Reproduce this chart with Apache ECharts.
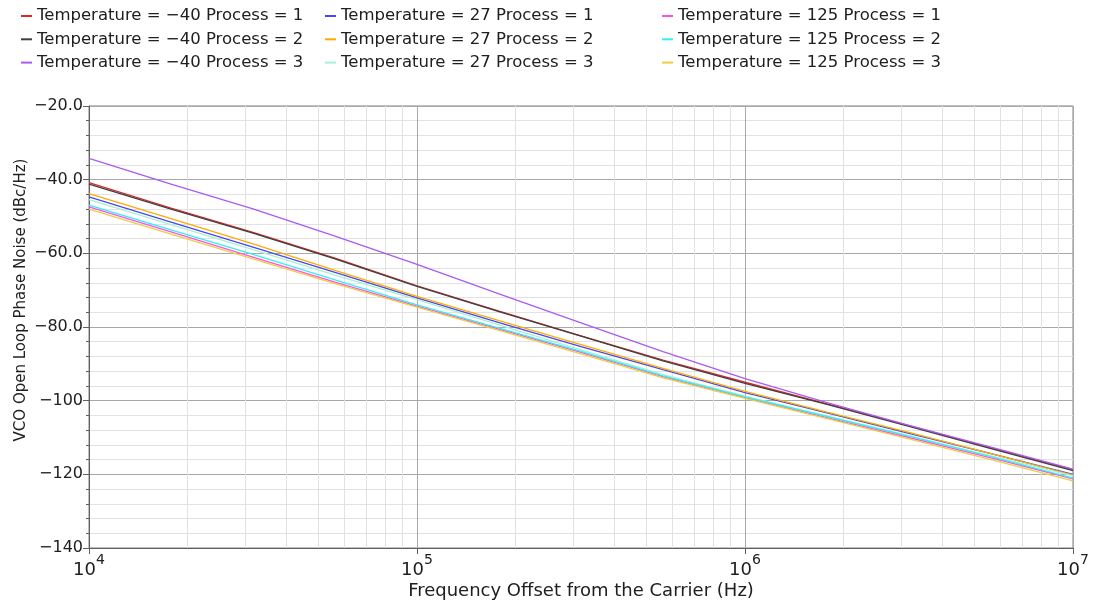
<!DOCTYPE html>
<html>
<head>
<meta charset="utf-8">
<script src="https://cdn.jsdelivr.net/npm/echarts@6/dist/echarts.min.js"></script>
<style>html,body{margin:0;padding:0;background:#fff}#c{width:1099px;height:604px}</style>
</head>
<body>
<div id="c"></div>
<script>
// Sample frequencies (Hz), quarter-decade steps
const freqs = [1e4, 17783, 31623, 56234, 1e5, 177828, 316228, 562341, 1e6, 1778279, 3162278, 5623413, 1e7];

// Phase noise values (dBc/Hz)
const tm40p1 = [-40.8, -47.7, -54.3, -61.3, -68.8, -75.7, -82.4, -89.0, -95.0, -100.9, -106.8, -112.8, -118.8];
const tm40p2 = [-41.2, -48.0, -54.5, -61.5, -69.0, -75.8, -82.5, -89.2, -95.3, -101.0, -107.0, -113.0, -119.0];
const tm40p3 = [-34.2, -41.2, -47.9, -55.3, -63.0, -71.0, -78.9, -86.7, -94.0, -100.5, -106.7, -112.6, -118.6];
const t27p1  = [-44.7, -51.5, -58.3, -65.2, -72.1, -78.8, -85.3, -91.6, -97.8, -103.3, -108.9, -114.4, -120.0];
const t27p2  = [-43.8, -50.6, -57.4, -64.6, -71.7, -78.3, -84.8, -91.2, -97.5, -103.1, -108.6, -114.4, -120.2];
const t27p3  = [-45.4, -52.2, -59.0, -65.9, -72.6, -79.4, -86.2, -92.9, -98.8, -104.2, -109.5, -115.0, -120.4];
const t125p1 = [-47.4, -54.2, -61.0, -67.8, -74.3, -80.6, -86.9, -93.5, -99.2, -104.6, -110.0, -115.5, -121.2];
const t125p2 = [-46.9, -53.6, -60.3, -67.2, -74.0, -80.3, -86.6, -93.3, -99.0, -104.3, -109.6, -115.2, -121.0];
const t125p3 = [-48.0, -54.8, -61.5, -68.2, -74.6, -80.9, -87.3, -93.8, -99.4, -104.9, -110.4, -116.0, -121.8];

const seriesNames = [
  'Temperature = \u221240 Process = 1', 'Temperature = \u221240 Process = 2', 'Temperature = \u221240 Process = 3',
  'Temperature = 27 Process = 1', 'Temperature = 27 Process = 2', 'Temperature = 27 Process = 3',
  'Temperature = 125 Process = 1', 'Temperature = 125 Process = 2', 'Temperature = 125 Process = 3'
];
const seriesValues = [tm40p1, tm40p2, tm40p3, t27p1, t27p2, t27p3, t125p1, t125p2, t125p3];
const seriesColors = ['#e02828', '#404040', '#a85cf0', '#4848f0', '#ffaa00', '#a8f0d4', '#ff50e8', '#30f0f0', '#f0cc40'];

// Minor x grid positions (log decades 2..9)
const minorX = [];
[1e4, 1e5, 1e6].forEach(d => { for (let k = 2; k <= 9; k++) minorX.push(d * k); });

const FONT = 'DejaVu Sans';
const chart = echarts.init(document.getElementById('c'), null, {renderer: 'canvas'});

const series = seriesNames.map((n, i) => ({
  name: n,
  type: 'line',
  data: freqs.map((f, j) => [f, seriesValues[i][j]]),
  symbol: 'none',
  smooth: false,
  lineStyle: {width: 1.3, color: seriesColors[i]},
  itemStyle: {color: seriesColors[i]},
  z: 3
}));
series.push({
  name: 'grid-minor-x',
  type: 'line',
  data: [],
  silent: true,
  markLine: {
    silent: true,
    symbol: ['none', 'none'],
    z: 1,
    label: {show: false},
    lineStyle: {color: '#e2e2e2', width: 1, type: 'solid'},
    data: minorX.map(v => ({xAxis: v}))
  }
});

function legendCol(left, names) {
  return {
    orient: 'vertical',
    left: left,
    top: 2,
    itemWidth: 11,
    itemHeight: 2,
    itemGap: 5.3,
    icon: 'rect',
    data: names,
    selectedMode: false,
    textStyle: {fontFamily: FONT, fontSize: 16.5, color: '#202020', lineHeight: 18}
  };
}

const option = {
  animation: false,
  backgroundColor: '#ffffff',
  color: seriesColors,
  legend: [
    legendCol(16, seriesNames.slice(0, 3)),
    legendCol(320, seriesNames.slice(3, 6)),
    legendCol(657, seriesNames.slice(6, 9))
  ],
  grid: {left: 89, right: 26, top: 106, bottom: 56, show: true, borderColor: '#808080', borderWidth: 1, outerBoundsMode: 'none', containLabel: false},
  xAxis: {
    type: 'log',
    logBase: 10,
    min: 1e4,
    max: 1e7,
    name: 'Frequency Offset from the Carrier (Hz)',
    nameLocation: 'middle',
    nameGap: 34,
    nameMoveOverlap: false,
    nameTextStyle: {fontFamily: FONT, fontSize: 18, color: '#202020'},
    axisLine: {lineStyle: {color: '#606060', width: 1}},
    axisTick: {show: true, length: 6, lineStyle: {color: '#606060'}},
    splitLine: {show: true, lineStyle: {color: '#a8a8a8', width: 1}},
    axisLabel: {
      margin: 5,
      formatter: function (v) {
        const e = Math.round(Math.log10(v));
        return '{b|10}{s|' + e + '}';
      },
      rich: {
        b: {fontFamily: FONT, fontSize: 18, color: '#202020', lineHeight: 26, verticalAlign: 'bottom'},
        s: {fontFamily: FONT, fontSize: 14, color: '#202020', lineHeight: 15, verticalAlign: 'top'}
      }
    }
  },
  yAxis: {
    type: 'value',
    min: -140,
    max: -20,
    interval: 20,
    name: 'VCO Open Loop Phase Noise (dBc/Hz)',
    nameLocation: 'middle',
    nameGap: 60,
    nameMoveOverlap: false,
    nameTextStyle: {fontFamily: FONT, fontSize: 15, color: '#202020', padding: [0, 0, 0, 54]},
    axisLine: {show: true, lineStyle: {color: '#606060', width: 1}},
    axisTick: {show: true, length: 6, lineStyle: {color: '#606060'}},
    minorTick: {show: true, splitNumber: 5, length: 3, lineStyle: {color: '#606060'}},
    splitLine: {show: true, lineStyle: {color: '#a8a8a8', width: 1}},
    minorSplitLine: {show: true, lineStyle: {color: '#e2e2e2', width: 1}},
    axisLabel: {
      margin: 6,
      fontFamily: FONT,
      fontSize: 16,
      color: '#202020',
      formatter: function (v) {
        const s = Math.abs(v) < 100 ? v.toFixed(1) : String(v);
        return s.replace('-', '\u2212');
      }
    }
  },
  series: series
};
chart.setOption(option);
</script>
</body>
</html>
